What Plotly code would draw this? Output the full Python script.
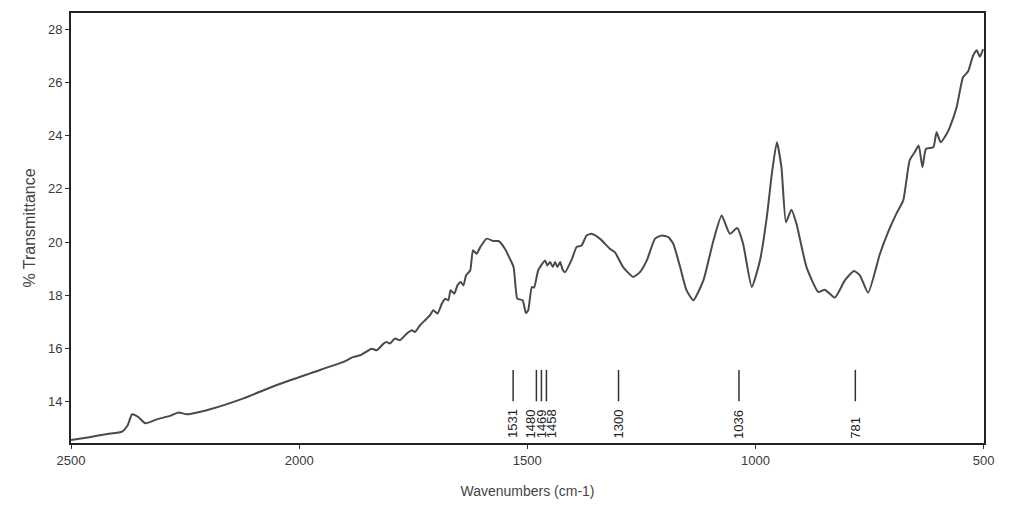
import plotly.graph_objects as go

# FTIR spectrum: wavenumber (cm-1) and % transmittance
wavenumber = [
    2500, 2460, 2420, 2388, 2376, 2366, 2352, 2337, 2312, 2285, 2264, 2246,
    2195, 2122, 2049, 1976, 1903, 1881, 1866, 1841, 1830, 1815, 1808, 1801,
    1790, 1779, 1764, 1753, 1746, 1735, 1724, 1713, 1706, 1697, 1687, 1680,
    1673, 1668, 1660, 1653, 1646, 1640, 1634, 1625, 1619, 1611, 1603, 1589,
    1574, 1563, 1549, 1538, 1530, 1522, 1516, 1510, 1503, 1498, 1490, 1485,
    1476, 1461, 1456, 1450, 1444, 1439, 1434, 1428, 1422, 1417, 1402, 1392,
    1381, 1370, 1359, 1341, 1319, 1308, 1290, 1268, 1253, 1238, 1220, 1205,
    1191, 1180, 1165, 1151, 1136, 1114, 1092, 1074, 1056, 1040, 1027, 1008,
    990, 975, 964, 953, 943, 933, 921, 910, 888, 862, 848, 826,
    804, 784, 771, 753, 727, 709, 691, 676, 662, 651, 642, 634,
    626, 610, 603, 594, 581, 574, 559, 545, 534, 523, 515, 508, 501,
]
transmittance = [
    12.55, 12.66, 12.78, 12.87, 13.10, 13.52, 13.41, 13.18, 13.33, 13.45, 13.59, 13.52,
    13.71, 14.12, 14.62, 15.06, 15.49, 15.68, 15.74, 15.99, 15.93, 16.18, 16.24, 16.18,
    16.37, 16.31, 16.56, 16.68, 16.62, 16.87, 17.06, 17.25, 17.44, 17.31, 17.69, 17.87,
    17.81, 18.19, 18.06, 18.37, 18.50, 18.37, 18.75, 18.94, 19.69, 19.56, 19.81, 20.13,
    20.04, 20.04, 19.75, 19.37, 19.06, 17.87, 17.84, 17.81, 17.33, 17.43, 18.31, 18.29,
    18.94, 19.31, 19.12, 19.25, 19.06, 19.25, 19.06, 19.25, 18.94, 18.87, 19.37, 19.81,
    19.87, 20.25, 20.31, 20.13, 19.75, 19.62, 19.06, 18.69, 18.87, 19.31, 20.13, 20.25,
    20.19, 19.94, 19.06, 18.19, 17.81, 18.56, 20.06, 21.00, 20.31, 20.53, 19.94, 18.31,
    19.31, 20.94, 22.57, 23.76, 22.82, 20.75, 21.22, 20.69, 19.06, 18.12, 18.21, 17.91,
    18.56, 18.91, 18.75, 18.09, 19.56, 20.38, 21.07, 21.57, 23.07, 23.38, 23.63, 22.82,
    23.51, 23.57, 24.13, 23.76, 24.07, 24.32, 25.07, 26.20, 26.42, 27.01, 27.22, 26.97, 27.26,
]

# Marked band positions (cm-1)
peaks = [1531, 1480, 1469, 1458, 1300, 1036, 781]

x_ticks = [2500, 2000, 1500, 1000, 500]
x_range = [2500, 499]
y_range = [12.44, 28.62]

AXIS_FONT = "Liberation Sans, Arial, sans-serif"

fig = go.Figure()
fig.add_trace(go.Scatter(
    x=wavenumber, y=transmittance, mode="lines",
    line=dict(color="#4a4a4a", width=2, shape="spline", smoothing=0.5),
    hoverinfo="x+y", showlegend=False,
))

# Spread crowded peak labels apart so the rotated text does not overlap
label_pos = sorted(peaks, reverse=True)
min_gap = 24.0
for _ in range(100):
    for i in range(len(label_pos) - 1):
        d = label_pos[i] - label_pos[i + 1]
        if d < min_gap:
            s = (min_gap - d) / 2
            label_pos[i] += s
            label_pos[i + 1] -= s

for wn, lx in zip(sorted(peaks, reverse=True), label_pos):
    fig.add_shape(type="line", xref="x", yref="paper",
                  x0=wn, x1=wn, y0=0.097, y1=0.170,
                  line=dict(color="#333333", width=1.5))
    fig.add_annotation(x=lx, y=0.006, xref="x", yref="paper",
                       text=str(wn), textangle=-90, showarrow=False,
                       xanchor="center", yanchor="bottom",
                       font=dict(family=AXIS_FONT, size=13, color="#222222"))

fig.update_layout(
    width=1016, height=513,
    margin=dict(l=71, r=32, t=13, b=70),
    paper_bgcolor="white", plot_bgcolor="white",
    font=dict(family=AXIS_FONT, color="#444444"),
)
fig.update_xaxes(
    range=x_range, tickvals=x_ticks, ticktext=[str(v) for v in x_ticks],
    ticks="outside", ticklen=4, tickcolor="#333333", tickwidth=1,
    showline=True, linecolor="#222222", linewidth=2, mirror=True,
    showgrid=False, zeroline=False,
    tickfont=dict(size=13, color="#3a3a3a"),
    title=dict(text="Wavenumbers (cm-1)", font=dict(size=14, color="#444444"), standoff=20),
)
fig.update_yaxes(
    range=y_range, dtick=2, tick0=0,
    ticks="outside", ticklen=4, tickcolor="#333333", tickwidth=1,
    showline=True, linecolor="#222222", linewidth=2, mirror=True,
    showgrid=False, zeroline=False,
    tickfont=dict(size=13, color="#3a3a3a"),
    title=dict(text="% Transmittance", font=dict(size=16, color="#444444"), standoff=8),
)

fig.write_html("out.html")
